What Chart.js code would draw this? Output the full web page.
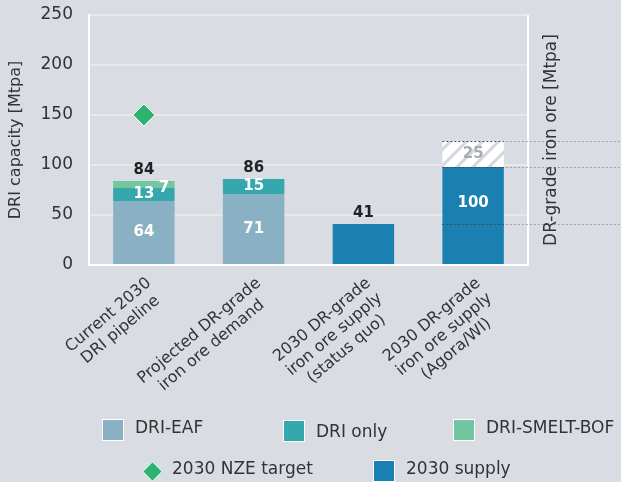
<!DOCTYPE html>
<html>
<head>
<meta charset="utf-8">
<script src="https://cdn.jsdelivr.net/npm/chart.js@4.4.1/dist/chart.umd.min.js"></script>
<style>
  body { margin: 0; background: #d9dce2; }
  #wrap { position: relative; width: 621px; height: 482px; font-family: "DejaVu Sans", sans-serif; color: #333; }
  #chart { position: absolute; left: 0; top: 0; }
  .leg { position: absolute; font-size: 17px; white-space: nowrap; }
  .leg .box { position: absolute; width: 22px; height: 22px; border: 1px solid #fff; box-sizing: border-box; }
  .leg .dia { position: absolute; width: 15px; height: 15px; border: 1px solid #fff; box-sizing: border-box; transform: rotate(45deg); }
</style>
</head>
<body>
<div id="wrap">
  <canvas id="chart" width="621" height="482"></canvas>
</div>
<script>
// Categories and values
var categories = [
    ["Current 2030", "DRI pipeline"],
    ["Projected DR-grade", "iron ore demand"],
    ["2030 DR-grade", "iron ore supply", "(status quo)"],
    ["2030 DR-grade", "iron ore supply", "(Agora/WI)"]
];
var driEaf = [64, 71, null, null];
var driOnly = [13, 15, null, null];
var driSmeltBof = [7, null, null, null];
var supply2030 = [null, null, 41, 98];
var supplyUpside = [null, null, null, 26];
var nzeTarget = [150, null, null, null];

// Text shown on the bars (as printed in the figure)
var eafLabels = ["64", "71", null, null];
var onlyLabels = ["13", "15", null, null];
var smeltLabels = ["7", null, null, null];
var supplyLabels = [null, null, null, "100"];
var upsideLabels = [null, null, null, "25"];
var totalLabels = ["84", "86", "41", null];

var yTicks = [0, 50, 100, 150, 200, 250];

var FONT = '"DejaVu Sans", sans-serif';
var colors = {
    eaf: '#8ab0c4',
    only: '#35a8ae',
    smelt: '#72c7a0',
    supply: '#1a80b1',
    nze: '#2db36f'
};

// Hatched fill for the upside part of the last bar
function makeHatch() {
    var c = document.createElement('canvas');
    c.width = 16; c.height = 16;
    var g = c.getContext('2d');
    g.fillStyle = '#ffffff';
    g.fillRect(0, 0, 16, 16);
    g.strokeStyle = '#d4d7dd';
    g.lineWidth = 3;
    g.beginPath();
    g.moveTo(-8, 8); g.lineTo(8, -8);
    g.moveTo(0, 16); g.lineTo(16, 0);
    g.moveTo(8, 24); g.lineTo(24, 8);
    g.stroke();
    return g.createPattern(c, 'repeat');
}

// Labels inside / above bars, dotted reference lines, right title, rotated category labels
var extrasPlugin = {
    id: 'extras',
    afterDatasetsDraw: function(chart) {
        var ctx = chart.ctx;
        var area = chart.chartArea;
        var y = chart.scales.y;
        var x = chart.scales.x;

        // right axis line
        ctx.save();
        ctx.strokeStyle = '#ffffff';
        ctx.lineWidth = 2;
        ctx.beginPath();
        ctx.moveTo(area.right, area.top);
        ctx.lineTo(area.right, area.bottom + 1);
        ctx.stroke();
        ctx.restore();

        // dotted lines at the supply levels
        var lastBar = chart.getDatasetMeta(3).data[3];
        var bl = lastBar.x - lastBar.width / 2;
        var br = lastBar.x + lastBar.width / 2;
        var levels = [supply2030[3] + supplyUpside[3], supply2030[3], supply2030[2]];
        ctx.save();
        ctx.lineWidth = 1;
        levels.forEach(function(v) {
            var py = Math.round(y.getPixelForValue(v)) + 0.5;
            ctx.setLineDash([2, 2]);
            ctx.strokeStyle = '#45484e';
            ctx.beginPath(); ctx.moveTo(bl, py); ctx.lineTo(br, py); ctx.stroke();
            ctx.strokeStyle = '#9fa2a8';
            ctx.beginPath(); ctx.moveTo(br + 2, py); ctx.lineTo(chart.width, py); ctx.stroke();
        });
        ctx.restore();

        // labels inside segments
        var inside = [
            [0, eafLabels, '#ffffff'],
            [1, onlyLabels, '#ffffff'],
            [2, smeltLabels, '#ffffff'],
            [3, supplyLabels, '#ffffff'],
            [4, upsideLabels, '#a9acb2']
        ];
        ctx.save();
        ctx.font = 'bold 15px ' + FONT;
        ctx.textAlign = 'center';
        ctx.textBaseline = 'middle';
        inside.forEach(function(item) {
            var meta = chart.getDatasetMeta(item[0]);
            item[1].forEach(function(txt, i) {
                if (!txt) return;
                var el = meta.data[i];
                var px = el.x;
                var py = (el.y + el.base) / 2;
                if (item[0] === 2) { px += 20; py += 4; }   // "7" sits to the right
                if (item[0] === 3) { py -= 12; }
                ctx.fillStyle = item[2];
                ctx.fillText(txt, px, py);
            });
        });

        // totals above the bars
        ctx.fillStyle = '#222222';
        ctx.textBaseline = 'bottom';
        totalLabels.forEach(function(txt, i) {
            if (!txt) return;
            var top = Infinity;
            for (var d = 0; d < 4; d++) {
                var el = chart.getDatasetMeta(d).data[i];
                if (el && chart.data.datasets[d].data[i] != null) top = Math.min(top, el.y);
            }
            ctx.fillText(txt, x.getPixelForValue(i), top - 3);
        });
        ctx.restore();

        // right axis title
        ctx.save();
        ctx.font = '17px ' + FONT;
        ctx.fillStyle = '#333333';
        ctx.textAlign = 'center';
        ctx.textBaseline = 'middle';
        ctx.translate(area.right + 24, (area.top + area.bottom) / 2);
        ctx.rotate(-Math.PI / 2);
        ctx.fillText('DR-grade iron ore [Mtpa]', 0, 0);
        ctx.restore();

        // category labels, rotated and centred line by line
        ctx.save();
        ctx.font = '16px ' + FONT;
        ctx.fillStyle = '#333333';
        ctx.textAlign = 'center';
        ctx.textBaseline = 'top';
        categories.forEach(function(lines, i) {
            var w = 0;
            lines.forEach(function(l) { w = Math.max(w, ctx.measureText(l).width); });
            ctx.save();
            ctx.translate(x.getPixelForValue(i) + 0, area.bottom + 10);
            ctx.rotate(-40 * Math.PI / 180);
            lines.forEach(function(l, k) {
                ctx.fillText(l, -w / 2, k * 19);
            });
            ctx.restore();
        });
        ctx.restore();
    }
};

var hatch = makeHatch();

new Chart(document.getElementById('chart').getContext('2d'), {
    type: 'bar',
    data: {
        labels: categories,
        datasets: [
            { label: 'DRI-EAF', data: driEaf, backgroundColor: colors.eaf, stack: 'a' },
            { label: 'DRI only', data: driOnly, backgroundColor: colors.only, stack: 'a' },
            { label: 'DRI-SMELT-BOF', data: driSmeltBof, backgroundColor: colors.smelt, stack: 'a' },
            { label: '2030 supply', data: supply2030, backgroundColor: colors.supply, stack: 'a' },
            { label: 'Upside', data: supplyUpside, backgroundColor: hatch, stack: 'a' },
            {
                type: 'line',
                label: '2030 NZE target',
                data: nzeTarget,
                stack: 'nze',
                showLine: false,
                pointStyle: 'rectRot',
                pointRadius: 11,
                backgroundColor: colors.nze,
                borderColor: '#ffffff',
                borderWidth: 1
            }
        ]
    },
    options: {
        responsive: false,
        animation: false,
        layout: { padding: { top: 15, right: 93, bottom: 217, left: 0 } },
        datasets: { bar: { barPercentage: 0.56, categoryPercentage: 1 } },
        plugins: {
            legend: { display: false },
            tooltip: { enabled: false }
        },
        scales: {
            x: {
                stacked: true,
                grid: { display: false },
                border: { display: true, color: '#ffffff', width: 2 },
                ticks: { display: false },
                afterFit: function(s) { s.height = 0; }
            },
            y: {
                stacked: true,
                min: 0,
                max: 250,
                afterBuildTicks: function(s) { s.ticks = yTicks.map(function(v) { return { value: v }; }); },
                afterFit: function(s) { s.width = 89; s.paddingTop = 0; s.paddingBottom = 0; },
                grid: { color: '#e6e8ec', lineWidth: 2, drawTicks: false },
                border: { display: true, color: '#ffffff', width: 2 },
                ticks: { color: '#333333', font: { family: FONT, size: 17 }, padding: 16 },
                title: {
                    display: true,
                    text: 'DRI capacity [Mtpa]',
                    color: '#333333',
                    font: { family: FONT, size: 16 },
                    padding: { top: 6, bottom: 0 }
                }
            }
        }
    },
    plugins: [extrasPlugin]
});

// Legend (HTML), two rows as in the figure
var legendItems = [
    { name: 'DRI-EAF', color: colors.eaf, shape: 'box', left: 102, top: 419 },
    { name: 'DRI only', color: colors.only, shape: 'box', left: 283, top: 420 },
    { name: 'DRI-SMELT-BOF', color: colors.smelt, shape: 'box', left: 453, top: 419 },
    { name: '2030 NZE target', color: colors.nze, shape: 'dia', left: 141, top: 460 },
    { name: '2030 supply', color: colors.supply, shape: 'box', left: 373, top: 460 }
];
var wrap = document.getElementById('wrap');
legendItems.forEach(function(it) {
    var d = document.createElement('div');
    d.className = 'leg';
    d.style.left = it.left + 'px';
    d.style.top = it.top + 'px';
    var m = document.createElement('span');
    m.className = it.shape;
    m.style.background = it.color;
    if (it.shape === 'dia') { m.style.left = '4px'; m.style.top = '4px'; }
    d.appendChild(m);
    var t = document.createElement('span');
    t.textContent = it.name;
    t.style.position = 'absolute';
    t.style.left = (it.shape === 'dia' ? 31 : 33) + 'px';
    t.style.top = (it.name === 'DRI only' ? 1 : -2) + 'px';
    d.appendChild(t);
    wrap.appendChild(d);
});
</script>
</body>
</html>
